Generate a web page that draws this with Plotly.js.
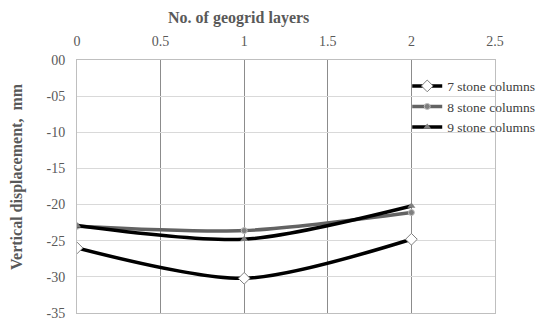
<!DOCTYPE html>
<html>
<head>
<meta charset="utf-8">
<script src="https://cdn.plot.ly/plotly-3.0.1.min.js"></script>
<style>html,body{margin:0;padding:0;background:#fff;}#chart{width:545px;height:322px;}</style>
</head>
<body>
<div id="chart"></div>
<script>
var geogridLayers = [0, 1, 2];
var seriesNames = ["7 stone columns", "8 stone columns", "9 stone columns"];
var disp7 = [-26.0, -30.2, -24.8];
var disp8 = [-23.0, -23.6, -21.1];
var disp9 = [-22.9, -24.8, -20.2];
var xTickVals = [0, 0.5, 1, 1.5, 2, 2.5];
var xTickText = ["0", "0.5", "1", "1.5", "2", "2.5"];
var yTickVals = [0, -5, -10, -15, -20, -25, -30, -35];
var yTickText = ["00", "-05", "-10", "-15", "-20", "-25", "-30", "-35"];

var serif = "'Liberation Serif', 'DejaVu Serif', serif";
var traces = [
  {x: geogridLayers, y: disp7, name: seriesNames[0], mode: "lines+markers",
   line: {color: "#000000", width: 3.5, shape: "spline", smoothing: 0.8},
   marker: {symbol: "diamond", size: 9, color: "#ffffff", line: {color: "#7f7f7f", width: 1}}},
  {x: geogridLayers, y: disp8, name: seriesNames[1], mode: "lines+markers",
   line: {color: "#636363", width: 3.5, shape: "spline", smoothing: 0.8},
   marker: {symbol: "circle", size: 6, color: "#7f7f7f", line: {color: "#bfbfbf", width: 1}}},
  {x: geogridLayers, y: disp9, name: seriesNames[2], mode: "lines+markers",
   line: {color: "#000000", width: 3.5, shape: "spline", smoothing: 0.8},
   marker: {symbol: "triangle-up", size: 7, color: "#7f7f7f", line: {color: "#7f7f7f", width: 0}}}
];

var layout = {
  width: 545, height: 322,
  margin: {l: 77, r: 50, t: 60, b: 9, autoexpand: false},
  paper_bgcolor: "#ffffff", plot_bgcolor: "#ffffff",
  font: {family: serif, color: "#595959", size: 13},
  showlegend: true,
  legend: {x: 0.79, y: 0.958, xanchor: "left", yanchor: "top",
           bgcolor: "rgba(0,0,0,0)", font: {family: serif, size: 13.5, color: "#404040"},
           tracegroupgap: 0, itemwidth: 30},
  xaxis: {range: [0, 2.5], side: "top", tickvals: xTickVals, ticktext: xTickText,
          showgrid: true, gridcolor: "#8c8c8c", gridwidth: 1,
          showline: true, linecolor: "#bfbfbf", mirror: true, zeroline: false,
          ticks: "", ticklabelstandoff: 7, automargin: false,
          tickfont: {family: serif, size: 14, color: "#595959"}, fixedrange: true},
  yaxis: {range: [-35, 0], tickvals: yTickVals, ticktext: yTickText,
          showgrid: true, gridcolor: "#d9d9d9", gridwidth: 1,
          showline: true, linecolor: "#bfbfbf", mirror: true, zeroline: false,
          ticks: "", ticklabelstandoff: 8, automargin: false,
          tickfont: {family: serif, size: 14, color: "#595959"}, fixedrange: true},
  annotations: [
    {text: "<b>No. of geogrid layers</b>", xref: "paper", yref: "paper",
     x: (238 - 77) / 418, y: 1 + (60 - 18) / 253, xanchor: "center", yanchor: "middle",
     showarrow: false, font: {family: serif, size: 16, color: "#595959"}},
    {text: "<b>Vertical displacement,  mm</b>", xref: "paper", yref: "paper",
     x: (17 - 77) / 418, y: 1 - (177 - 60) / 253, xanchor: "center", yanchor: "middle",
     textangle: -90, showarrow: false, font: {family: serif, size: 16, color: "#595959"}}
  ]
};
Plotly.newPlot("chart", traces, layout, {displayModeBar: false, staticPlot: true});
</script>
</body>
</html>
